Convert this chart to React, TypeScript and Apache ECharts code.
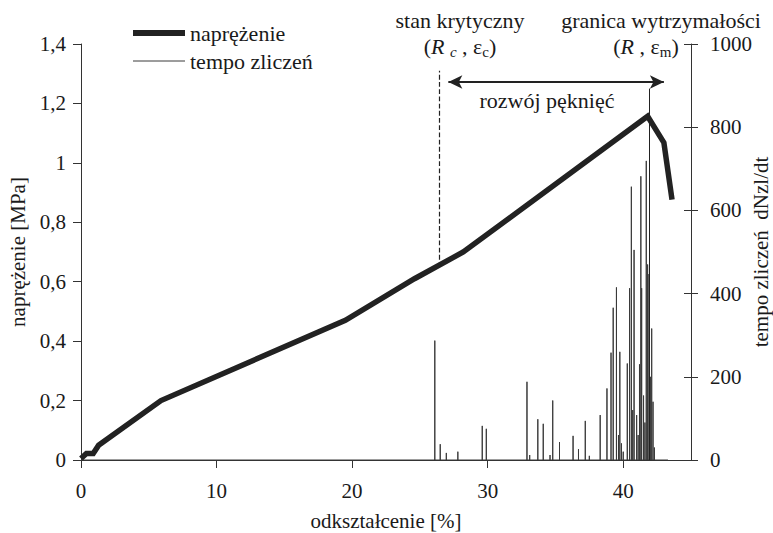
import React, { useEffect, useRef } from 'react';
import * as echarts from 'echarts';

// stress curve (left axis, MPa) vs strain (%)
const strainX = [0, 0.4, 0.9, 1.3, 5.9, 19.5, 24.6, 28.2, 41.8, 43.0, 43.6];
const stressY = [0.005, 0.022, 0.022, 0.05, 0.2, 0.47, 0.61, 0.7, 1.157, 1.068, 0.876];

// acoustic emission count rate spikes (right axis)
const spikeX = [26.1, 26.5, 26.95, 27.8, 29.6, 29.9, 32.9, 33.1, 33.7, 34.1, 34.6, 34.8, 35.3, 36.3, 36.7, 37.2, 37.5, 38.3, 38.8, 39.1, 39.26, 39.5, 39.65, 39.75, 39.87, 40.0, 40.3, 40.47, 40.6, 40.7, 40.8, 40.99, 41.1, 41.2, 41.3, 41.36, 41.5, 41.6, 41.7, 41.8, 41.9, 42.0, 42.1, 42.2, 42.3];
const spikeY = [287, 38, 17, 20, 82, 75, 188, 12, 98, 87, 12, 143, 43, 58, 26, 94, 10, 108, 172, 258, 366, 415, 60, 260, 40, 20, 232, 413, 657, 120, 505, 108, 60, 230, 682, 413, 155, 90, 719, 470, 447, 200, 316, 140, 30];
const tempoEnd = 43.3;

const xTicks = [0, 10, 20, 30, 40];
const seriesNames = ['naprężenie', 'tempo zliczeń'];

// annotation anchors (data units)
const critX = 26.4;
const critStress = 0.65;
const annotTop = 1.31;
const peakLineX = 41.9;
const peakLineTop = 1.25;
const arrowFrom = 27.1;
const arrowTo = 43.0;
const arrowY = 1.272;

const FONT = 'Liberation Serif';
const TXT = '#1a1a1a';
const AX = 21;
const ANN = 22;

export default function App() {
  const ref = useRef<HTMLDivElement>(null);
  useEffect(() => {
    document.body.style.margin = '0';
    const chart = echarts.init(ref.current!, null, { renderer: 'svg' });
    const stressData = strainX.map((x, i) => [x, stressY[i]]);
    const tempoData: number[][] = [[0, 0]];
    spikeX.forEach((x, i) => {
      tempoData.push([x, 0], [x, spikeY[i]], [x, 0]);
    });
    tempoData.push([tempoEnd, 0]);

    const sub = { fontSize: 15, fontFamily: FONT, color: TXT, padding: [11, 0, 0, 0], verticalAlign: 'middle' };
    const richStyles = {
      i: { fontSize: ANN, fontFamily: FONT, fontStyle: 'italic', color: TXT, verticalAlign: 'middle' },
      si: { ...sub, fontStyle: 'italic' },
      s: { ...sub },
    };
    const annText = (text: string, x: number, y: number) => ({
      type: 'text',
      x,
      y,
      silent: true,
      style: {
        text,
        fill: TXT,
        fontSize: ANN,
        fontFamily: FONT,
        align: 'center',
        verticalAlign: 'middle',
        rich: richStyles,
      },
    });

    const option: any = {
      animation: false,
      backgroundColor: '#ffffff',
      textStyle: { fontFamily: FONT },
      grid: { left: 81, right: 82, top: 44, bottom: 73, outerBoundsMode: 'none', containLabel: false },
      legend: {
        left: 130,
        top: 22,
        padding: 0,
        orient: 'vertical',
        itemWidth: 52,
        itemHeight: 14,
        itemGap: 6,
        selectedMode: false,
        itemStyle: { opacity: 0 },
        textStyle: { fontSize: ANN, color: TXT, fontFamily: FONT },
        data: [
          { name: seriesNames[0], lineStyle: { width: 6 } },
          { name: seriesNames[1], lineStyle: { width: 1 } },
        ],
      },
      xAxis: {
        type: 'value',
        min: 0,
        max: 45,
        name: 'odkształcenie [%]',
        nameLocation: 'middle',
        nameGap: 50,
        nameTextStyle: { fontSize: AX, color: TXT, fontFamily: FONT },
        axisLine: { show: true, lineStyle: { color: '#333', width: 1 } },
        axisTick: { show: true, length: 8, customValues: xTicks, lineStyle: { color: '#333' } },
        axisLabel: { customValues: xTicks, fontSize: AX, color: TXT, margin: 20, fontFamily: FONT },
        splitLine: { show: false },
      },
      yAxis: [
        {
          type: 'value',
          position: 'left',
          min: 0,
          max: 1.4,
          interval: 0.2,
          name: 'naprężenie [MPa]',
          nameLocation: 'middle',
          nameGap: 50,
          nameRotate: 90,
          nameTextStyle: { fontSize: AX, color: TXT, fontFamily: FONT },
          axisLine: { show: true, lineStyle: { color: '#333', width: 1 } },
          axisTick: { show: true, length: 8, lineStyle: { color: '#333' } },
          axisLabel: {
            fontSize: AX,
            color: TXT,
            margin: 15,
            fontFamily: FONT,
            formatter: (v: number) => String(Math.round(v * 10) / 10).replace('.', ','),
          },
          splitLine: { show: false },
        },
        {
          type: 'value',
          position: 'right',
          min: 0,
          max: 1000,
          interval: 200,
          name: 'tempo zliczeń  dNzl/dt',
          nameLocation: 'middle',
          nameGap: 59,
          nameRotate: 90,
          nameMoveOverlap: false,
          nameTextStyle: { fontSize: AX, color: TXT, fontFamily: FONT },
          axisLine: { show: true, lineStyle: { color: '#333', width: 1 } },
          axisTick: { show: true, length: 7, lineStyle: { color: '#333' } },
          axisLabel: { fontSize: AX, color: TXT, margin: 19, fontFamily: FONT, formatter: (v: number) => String(v) },
          splitLine: { show: false },
        },
        {
          type: 'value',
          position: 'right',
          min: 0,
          max: 1000,
          interval: 200,
          axisLine: { show: false },
          axisTick: { show: true, inside: true, length: 7, lineStyle: { color: '#333' } },
          axisLabel: { show: false },
          splitLine: { show: false },
        },
      ],
      series: [
        {
          name: seriesNames[1],
          type: 'line',
          yAxisIndex: 1,
          data: tempoData,
          symbol: 'none',
          z: 2,
          lineStyle: { width: 1, color: '#3a3a3a' },
          itemStyle: { color: '#3a3a3a' },
        },
        {
          name: seriesNames[0],
          type: 'line',
          yAxisIndex: 0,
          data: stressData,
          symbol: 'none',
          z: 3,
          lineStyle: { width: 5.5, color: '#222', join: 'miter' },
          itemStyle: { color: '#222' },
          markLine: {
            silent: true,
            symbol: 'none',
            label: { show: false },
            lineStyle: { color: '#222', width: 1, type: 'solid' },
            data: [
              [
                { coord: [critX, critStress], lineStyle: { type: 'dashed', width: 1.2, color: '#222' } },
                { coord: [critX, annotTop], lineStyle: { type: 'dashed', width: 1.2, color: '#222' } },
              ],
              [
                { coord: [peakLineX, 0] },
                { coord: [peakLineX, peakLineTop] },
              ],
              [
                { coord: [arrowFrom, arrowY], symbol: 'arrow', symbolSize: [10, 14], lineStyle: { width: 2, color: '#222', type: 'solid' } },
                { coord: [arrowTo, arrowY], symbol: 'arrow', symbolSize: [10, 14], lineStyle: { width: 2, color: '#222', type: 'solid' } },
              ],
            ],
          },
        },
      ],
      graphic: [
        annText('stan krytyczny', 460, 20),
        annText('({i|R} {si|c} , ε{s|c})', 460, 46),
        annText('granica wytrzymałości', 661, 20),
        annText('({i|R} , ε{s|m})', 646, 46),
        annText('rozwój pęknięć', 547, 100),
      ],
    };
    chart.setOption(option);
    return () => chart.dispose();
  }, []);
  return <div ref={ref} style={{ width: 773, height: 533 }} />;
}
